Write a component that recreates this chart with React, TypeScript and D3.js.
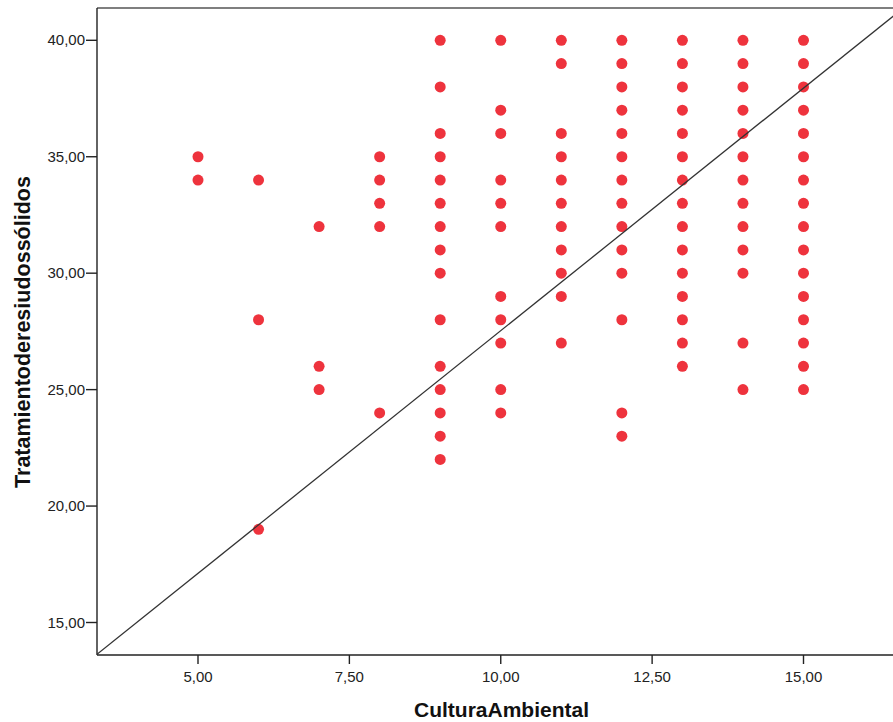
import React from "react";
import * as d3 from "d3";

// x categories (CulturaAmbiental) and the y values observed at each
const xValues = [5, 6, 7, 8, 9, 10, 11, 12, 13, 14, 15];
const yAt5 = [35, 34];
const yAt6 = [34, 28, 19];
const yAt7 = [32, 26, 25];
const yAt8 = [35, 34, 33, 32, 24];
const yAt9 = [40, 38, 36, 35, 34, 33, 32, 31, 30, 28, 26, 25, 24, 23, 22];
const yAt10 = [40, 37, 36, 34, 33, 32, 29, 28, 27, 25, 24];
const yAt11 = [40, 39, 36, 35, 34, 33, 32, 31, 30, 29, 27];
const yAt12 = [40, 39, 38, 37, 36, 35, 34, 33, 32, 31, 30, 28, 24, 23];
const yAt13 = [40, 39, 38, 37, 36, 35, 34, 33, 32, 31, 30, 29, 28, 27, 26];
const yAt14 = [40, 39, 38, 37, 36, 35, 34, 33, 32, 31, 30, 27, 25];
const yAt15 = [40, 39, 38, 37, 36, 35, 34, 33, 32, 31, 30, 29, 28, 27, 26, 25];
const yColumns = [yAt5, yAt6, yAt7, yAt8, yAt9, yAt10, yAt11, yAt12, yAt13, yAt14, yAt15];

const xTicks = [5, 7.5, 10, 12.5, 15];
const yTicks = [15, 20, 25, 30, 35, 40];
const fitIntercept = 6.69;
const fitSlope = 2.084;

const xTitle = "CulturaAmbiental";
const yTitle = "Tratamientoderesiudossólidos";

const W = 893;
const H = 722;
const left = 97;
const right = 906;
const top = 8;
const bottom = 655;

const fmt = (v: number) => v.toFixed(2).replace(".", ",");

export default function App() {
  const x = d3.scaleLinear().domain([5, 15]).range([198, 803.5]);
  const y = d3.scaleLinear().domain([15, 40]).range([622.5, 40.3]);

  const points: { xv: number; yv: number }[] = [];
  xValues.forEach((xv, i) => yColumns[i].forEach((yv) => points.push({ xv, yv })));

  const x0 = x.invert(left);
  const x1 = x.invert(right);
  const fitLine = d3
    .line<number>()
    .x((d) => x(d))
    .y((d) => y(fitIntercept + fitSlope * d))([x0, x1]);

  const tickFont = "'Liberation Sans', Arial, sans-serif";
  return (
    <svg
      width={W}
      height={H}
      style={{ position: "absolute", left: 0, top: 0, background: "#fff" }}
    >
      <defs>
        <clipPath id="plotclip">
          <rect x={left} y={top} width={right - left} height={bottom - top} />
        </clipPath>
      </defs>
      <rect x={0} y={0} width={W} height={H} fill="#fff" />
      {/* plot frame */}
      <line x1={left} y1={top} x2={right} y2={top} stroke="#555" strokeWidth={1.6} />
      <line x1={left} y1={top} x2={left} y2={bottom} stroke="#222" strokeWidth={1.4} />
      <line x1={left} y1={bottom} x2={right} y2={bottom} stroke="#222" strokeWidth={1.4} />

      {/* points */}
      <g clipPath="url(#plotclip)">
        {points.map((p, i) => (
          <circle key={i} cx={x(p.xv)} cy={y(p.yv)} r={5.5} fill="#ee333d" />
        ))}
        {fitLine && <path d={fitLine} stroke="#333" strokeWidth={1.3} fill="none" />}
      </g>

      {/* y axis ticks */}
      {yTicks.map((t) => (
        <g key={"y" + t}>
          <line x1={left - 11} x2={left} y1={y(t)} y2={y(t)} stroke="#222" strokeWidth={1.4} />
          <text
            x={left - 12}
            y={y(t) + 5}
            textAnchor="end"
            fontFamily={tickFont}
            fontSize={15}
            fill="#222"
          >
            {fmt(t)}
          </text>
        </g>
      ))}

      {/* x axis ticks */}
      {xTicks.map((t) => (
        <g key={"x" + t}>
          <line x1={x(t)} x2={x(t)} y1={bottom} y2={bottom + 9} stroke="#222" strokeWidth={1.4} />
          <text
            x={x(t)}
            y={681.5}
            textAnchor="middle"
            fontFamily={tickFont}
            fontSize={15}
            fill="#222"
          >
            {fmt(t)}
          </text>
        </g>
      ))}

      {/* axis titles */}
      <text
        x={501.5}
        y={716.5}
        textAnchor="middle"
        fontFamily={tickFont}
        fontWeight="bold"
        fontSize={21}
        fill="#111"
      >
        {xTitle}
      </text>
      <text
        transform={`translate(29.5, 332) rotate(-90)`}
        textAnchor="middle"
        fontFamily={tickFont}
        fontWeight="bold"
        fontSize={21.5}
        fill="#111"
      >
        {yTitle}
      </text>
    </svg>
  );
}
